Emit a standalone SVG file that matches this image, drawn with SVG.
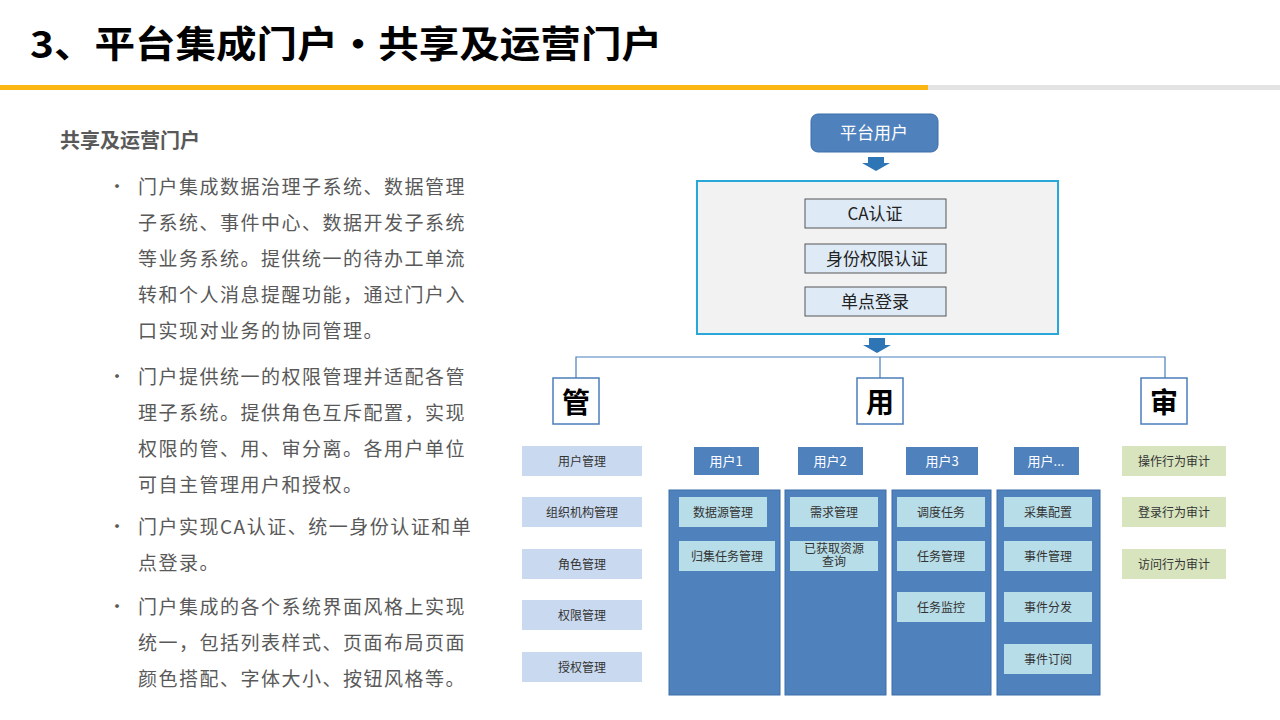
<svg xmlns="http://www.w3.org/2000/svg" width="1280" height="720" viewBox="0 0 1280 720">
<style>
text{font-family:"Microsoft YaHei","Noto Sans CJK SC","Liberation Sans",sans-serif}
.b{font-size:19px;fill:#595959;letter-spacing:1.5px}
.dot{font-size:18px;fill:#595959}
.s{font-size:12px;fill:#333;text-anchor:middle}
.w{font-size:13px;fill:#fff;text-anchor:middle}
.m{font-size:17px;fill:#222;text-anchor:middle}
.big{font-size:28px;font-weight:bold;fill:#000;text-anchor:middle}
.lg{fill:#c9d9ef}.ub{fill:#4f81bd}.col{fill:#4f81bd;stroke:#3d6ea8}.it{fill:#b7dde8}.au{fill:#d7e4bd}
.cap{fill:#fff;stroke:#4a7ebb;stroke-width:1.5}
</style>
<rect width="1280" height="720" fill="#fff"/>
<text x="30" y="58" font-size="37" font-weight="bold" fill="#000" textLength="632" lengthAdjust="spacingAndGlyphs">3、平台集成门户·共享及运营门户</text>
<rect x="0" y="85" width="928" height="5" fill="#fbb614"/>
<rect x="928" y="85" width="352" height="5" fill="#e3e3e3"/>
<text x="60" y="148" font-size="20" font-weight="bold" fill="#595959">共享及运营门户</text>
<g class="b">
<text class="dot" x="108" y="193">•</text>
<text x="138" y="194">门户集成数据治理子系统、数据管理</text>
<text x="138" y="230">子系统、事件中心、数据开发子系统</text>
<text x="138" y="266">等业务系统。提供统一的待办工单流</text>
<text x="138" y="302">转和个人消息提醒功能，通过门户入</text>
<text x="138" y="338">口实现对业务的协同管理。</text>
<text class="dot" x="108" y="383">•</text>
<text x="138" y="384">门户提供统一的权限管理并适配各管</text>
<text x="138" y="420">理子系统。提供角色互斥配置，实现</text>
<text x="138" y="456">权限的管、用、审分离。各用户单位</text>
<text x="138" y="492">可自主管理用户和授权。</text>
<text class="dot" x="108" y="533">•</text>
<text x="138" y="534">门户实现CA认证、统一身份认证和单</text>
<text x="138" y="570">点登录。</text>
<text class="dot" x="108" y="613">•</text>
<text x="138" y="614">门户集成的各个系统界面风格上实现</text>
<text x="138" y="650">统一，包括列表样式、页面布局页面</text>
<text x="138" y="686">颜色搭配、字体大小、按钮风格等。</text>
</g>
<g id="connectors">
<polygon points="868,157 884,157 884,163 890,163 876,171 862,163 868,163" fill="#2e75b6"/>
<polygon points="869,338 885,338 885,345 891,345 877,353 863,345 869,345" fill="#2e75b6"/>
<path d="M576,378 V357 H1165 V378 M880,357 V378" fill="none" stroke="#4a7ebb" stroke-width="1.2"/>
</g>
<g id="platform-user"><rect x="811" y="114" width="127" height="38" rx="7" fill="#4f81bd" stroke="#3d6ea8"/><text x="874" y="139" font-size="17" fill="#fff" text-anchor="middle">平台用户</text></g>
<g id="auth-box"><rect x="697" y="181" width="361" height="153" fill="#f2f2f2" stroke="#2aa7d9" stroke-width="2"/></g>
<g id="ca"><rect x="805" y="199" width="141" height="29" fill="#deebf7" stroke="#555"/><text class="m" x="875" y="220">CA认证</text></g>
<g id="idauth"><rect x="805" y="244" width="141" height="29" fill="#deebf7" stroke="#555"/><text class="m" x="877" y="265">身份权限认证</text></g>
<g id="sso"><rect x="805" y="287" width="141" height="29" fill="#deebf7" stroke="#555"/><text class="m" x="875" y="308">单点登录</text></g>
<g id="guan"><rect class="cap" x="553" y="378" width="46" height="46"/><text class="big" x="576" y="413">管</text></g>
<g id="yong"><rect class="cap" x="857" y="378" width="46" height="46"/><text class="big" x="880" y="413">用</text></g>
<g id="shen"><rect class="cap" x="1141" y="378" width="46" height="46"/><text class="big" x="1164" y="413">审</text></g>
<g id="mgmt">
<rect class="lg" x="522" y="446" width="120" height="30"/><text class="s" x="582" y="466">用户管理</text>
<rect class="lg" x="522" y="497" width="120" height="30"/><text class="s" x="582" y="517">组织机构管理</text>
<rect class="lg" x="522" y="549" width="120" height="30"/><text class="s" x="582" y="569">角色管理</text>
<rect class="lg" x="522" y="600" width="120" height="30"/><text class="s" x="582" y="620">权限管理</text>
<rect class="lg" x="522" y="652" width="120" height="30"/><text class="s" x="582" y="672">授权管理</text>
</g>
<g id="users">
<rect class="ub" x="694" y="447" width="65" height="28"/><text class="w" x="726" y="466">用户1</text>
<rect class="ub" x="798" y="447" width="65" height="28"/><text class="w" x="830" y="466">用户2</text>
<rect class="ub" x="906" y="447" width="72" height="28"/><text class="w" x="942" y="466">用户3</text>
<rect class="ub" x="1014" y="447" width="65" height="28"/><text class="w" x="1046" y="466">用户...</text>
</g>
<g id="col1"><rect class="col" x="669" y="490" width="111" height="205"/>
<rect class="it" x="679" y="497" width="88" height="30"/><text class="s" x="723" y="517">数据源管理</text>
<rect class="it" x="679" y="541" width="96" height="30"/><text class="s" x="727" y="561">归集任务管理</text></g>
<g id="col2"><rect class="col" x="785" y="490" width="101" height="205"/>
<rect class="it" x="790" y="497" width="88" height="30"/><text class="s" x="834" y="517">需求管理</text>
<rect class="it" x="790" y="541" width="88" height="30"/><text class="s" x="834" y="553" font-size="11.5">已获取资源<tspan x="834" dy="13">查询</tspan></text></g>
<g id="col3"><rect class="col" x="892" y="490" width="99" height="205"/>
<rect class="it" x="897" y="497" width="88" height="30"/><text class="s" x="941" y="517">调度任务</text>
<rect class="it" x="897" y="541" width="88" height="30"/><text class="s" x="941" y="561">任务管理</text>
<rect class="it" x="897" y="592" width="88" height="30"/><text class="s" x="941" y="612">任务监控</text></g>
<g id="col4"><rect class="col" x="997" y="490" width="103" height="205"/>
<rect class="it" x="1004" y="497" width="88" height="30"/><text class="s" x="1048" y="517">采集配置</text>
<rect class="it" x="1004" y="541" width="88" height="30"/><text class="s" x="1048" y="561">事件管理</text>
<rect class="it" x="1004" y="592" width="88" height="30"/><text class="s" x="1048" y="612">事件分发</text>
<rect class="it" x="1004" y="644" width="88" height="30"/><text class="s" x="1048" y="664">事件订阅</text></g>
<g id="audit">
<rect class="au" x="1122" y="446" width="104" height="30"/><text class="s" x="1174" y="466">操作行为审计</text>
<rect class="au" x="1122" y="497" width="104" height="30"/><text class="s" x="1174" y="517">登录行为审计</text>
<rect class="au" x="1122" y="549" width="104" height="30"/><text class="s" x="1174" y="569">访问行为审计</text>
</g>
</svg>
